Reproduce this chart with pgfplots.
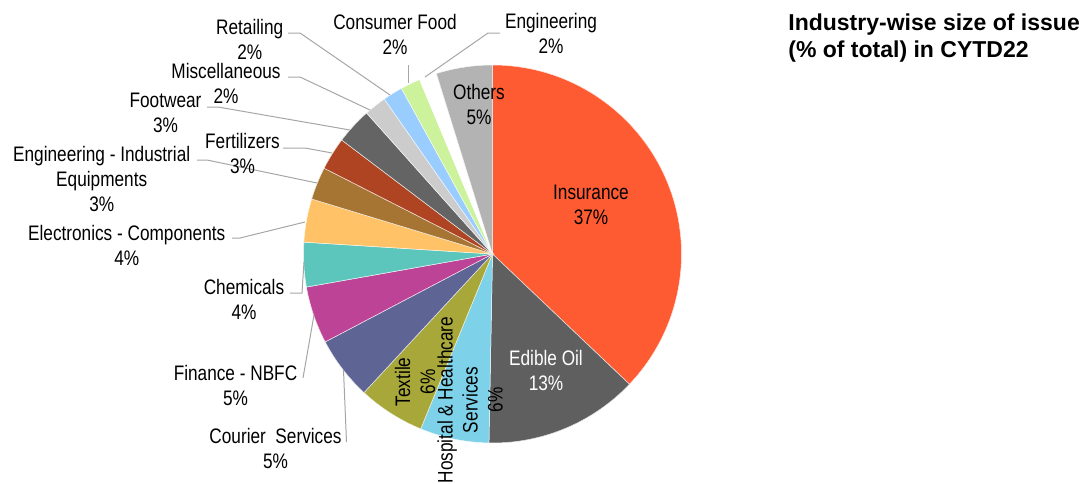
\documentclass[border=0pt]{standalone}
\usepackage{pgfplots}
\pgfplotsset{compat=1.18}
\usepackage{pgfplotstable}
\usepackage{fontspec}
\setmainfont{Liberation Sans}[FakeStretch=0.82]
\newfontfamily\titlefont{Liberation Sans}

% slice colours, clockwise from 12 o'clock
\definecolor{s0}{HTML}{FF5B33}  % Insurance
\definecolor{s1}{HTML}{5F5F5F}  % Edible Oil
\definecolor{s2}{HTML}{7DD1E8}  % Hospital
\definecolor{s3}{HTML}{A8A83A}  % Textile
\definecolor{s4}{HTML}{5E6594}  % Courier
\definecolor{s5}{HTML}{BD4396}  % Finance
\definecolor{s6}{HTML}{5CC6BD}  % Chemicals
\definecolor{s7}{HTML}{FFC266}  % Electronics
\definecolor{s8}{HTML}{A67533}  % Eng. Industrial
\definecolor{s9}{HTML}{AE4422}  % Fertilizers
\definecolor{s10}{HTML}{646464} % Footwear
\definecolor{s11}{HTML}{CCCCCC} % Miscellaneous
\definecolor{s12}{HTML}{99CCFF} % Retailing
\definecolor{s13}{HTML}{CCF29B} % Consumer Food
\definecolor{s14}{HTML}{FFFFFF} % Engineering
\definecolor{s15}{HTML}{B3B3B3} % Others

\pgfplotstableread[col sep=comma]{
sector,share
Insurance,37.1
Edible Oil,13.2
Hospital and Healthcare Services,5.9
Textile,5.7
Courier Services,5.4
Finance - NBFC,4.9
Chemicals,3.8
Electronics - Components,3.7
Engineering - Industrial Equipments,2.8
Fertilizers,2.8
Footwear,3.1
Miscellaneous,1.9
Retailing,1.7
Consumer Food,1.7
Engineering,1.5
Others,4.8
}\piedata

\begin{document}
\begin{tikzpicture}[
  lbl/.style={font=\fontsize{10.5}{12.5}\selectfont, align=center, inner sep=0pt},
  lead/.style={draw=black!35, line width=0.5pt},
]
\begin{axis}[
  hide axis, clip=false, scale only axis,
  x=0.5pt, y=0.5pt, y dir=reverse,
  xmin=0, xmax=1089, ymin=0, ymax=483,
]
\coordinate (bl) at (axis cs:0,483);
\coordinate (tr) at (axis cs:1089,0);

\pgfplotsextra{
  \xdef\startang{90}
  \pgfplotstableforeachcolumnelement{share}\of\piedata\as\val{
    \pgfmathsetmacro\endang{\startang-3.6*\val}
    \edef\cname{s\pgfplotstablerow}
    \fill[fill=\cname, draw=white!85!\cname, line width=0.25pt] (axis cs:492.5,254) -- ++(\startang:94.5pt)
      arc[start angle=\startang, end angle=\endang, radius=94.5pt] -- cycle;
    \xdef\startang{\endang}
  }
}

% leader lines
\draw[lead] (axis cs:288,33) -- (axis cs:300,33) -- (axis cs:390,95);
\draw[lead] (axis cs:288,77) -- (axis cs:300,77) -- (axis cs:370,110);
\draw[lead] (axis cs:207,107) -- (axis cs:218,107) -- (axis cs:350,130);
\draw[lead] (axis cs:283,148) -- (axis cs:305,148) -- (axis cs:332,153);
\draw[lead] (axis cs:197,160) -- (axis cs:207,160) -- (axis cs:317,183);
\draw[lead] (axis cs:232,238) -- (axis cs:240,238) -- (axis cs:305,222);
\draw[lead] (axis cs:290,293) -- (axis cs:302,293) -- (axis cs:304,262);
\draw[lead] (axis cs:303,378) -- (axis cs:314,315);
\draw[lead] (axis cs:346.5,442) -- (axis cs:343.5,370);
\draw[lead] (axis cs:408,65) -- (axis cs:408,83);
\draw[lead] (axis cs:500,33) -- (axis cs:488,33) -- (axis cs:425,77);

% data labels
\node[lbl] at (axis cs:591,205) {Insurance\\37\%};
\node[lbl, text=white] at (axis cs:546,370) {Edible Oil\\13\%};
\node[lbl, rotate=90] at (axis cs:470,400) {Hospital \& Healthcare\\Services\\6\%};
\node[lbl, rotate=90] at (axis cs:415,382) {Textile\\6\%};
\node[lbl] at (axis cs:275.5,448) {Courier\ \ Services\\5\%};
\node[lbl] at (axis cs:235.5,385.5) {Finance - NBFC\\5\%};
\node[lbl] at (axis cs:244,299) {Chemicals\\4\%};
\node[lbl] at (axis cs:126.7,245) {Electronics - Components\\4\%};
\node[lbl] at (axis cs:101.7,178.5) {Engineering - Industrial\\Equipments\\3\%};
\node[lbl] at (axis cs:242.5,153.3) {Fertilizers\\3\%};
\node[lbl] at (axis cs:165.5,112.5) {Footwear\\3\%};
\node[lbl] at (axis cs:226,83) {Miscellaneous\\2\%};
\node[lbl] at (axis cs:249.7,39) {Retailing\\2\%};
\node[lbl] at (axis cs:395,34) {Consumer Food\\2\%};
\node[lbl] at (axis cs:551,33.5) {Engineering\\2\%};
\node[lbl] at (axis cs:479,104) {Others\\5\%};

% title
\node[anchor=base west, align=left, inner sep=0pt,
      font=\titlefont\bfseries\fontsize{11.5}{13.5}\selectfont]
  at (axis cs:788,57.5) {Industry-wise size of issue\\(\% of total) in CYTD22};
\end{axis}
\pgfresetboundingbox
\path[use as bounding box] (bl) rectangle (tr);
\end{tikzpicture}
\end{document}
